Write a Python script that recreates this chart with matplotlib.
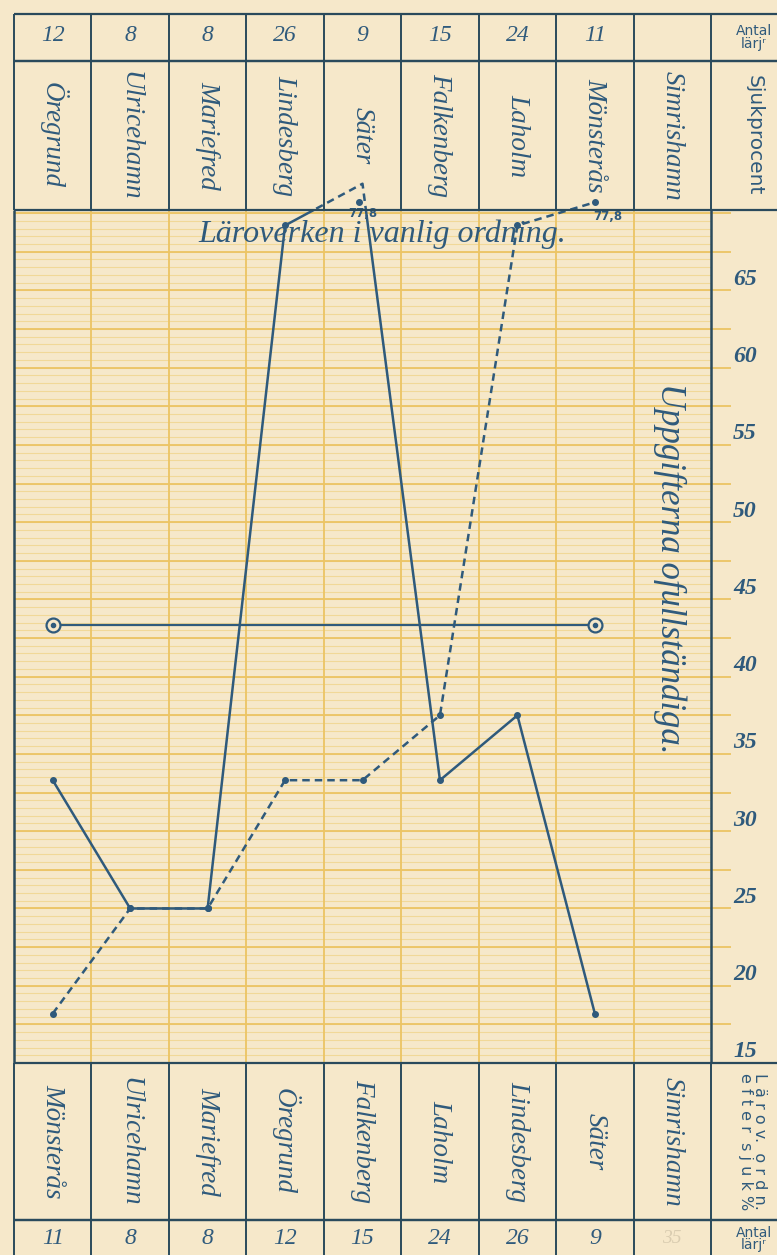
import numpy as np
import matplotlib.pyplot as plt
from matplotlib.patches import Rectangle

# schools in ordinary order (top of sheet)
schools = ["Öregrund", "Ulricehamn", "Mariefred", "Lindesberg", "Säter",
           "Falkenberg", "Laholm", "Mönsterås", "Simrishamn"]
pupils = [12, 8, 8, 26, 9, 15, 24, 11, None]
sick_pct = [33.3, 25.0, 25.0, 69.2, 77.8, 33.3, 37.5, 18.2, None]

# schools ordered by sick percentage (bottom of sheet)
schools_sorted = ["Mönsterås", "Ulricehamn", "Mariefred", "Öregrund", "Falkenberg",
                  "Laholm", "Lindesberg", "Säter", "Simrishamn"]

y_ticks = [15, 20, 25, 30, 35, 40, 45, 50, 55, 60, 65]

# off-scale value (Säter 77,8) is drawn as a broken peak just above the frame
PEAK_Y = 71.9
DOT_Y = 70.7
Y_MIN, Y_MAX = 15, 70.2

paper = "#f6e8ca"
ink = "#2f5a7c"
frame = "#2a4a5c"
grid_thin = "#f1d898"
grid_thick = "#ecc464"

W, H = 777, 1255
L, R = 14, 711
col_w = (R - L) / 9.0

serif = dict(family="Liberation Serif", style="italic", color=ink)
sans = dict(family="DejaVu Sans", color=ink)

fig = plt.figure(figsize=(W / 100, H / 100), dpi=100, facecolor=paper)


def box(top, bottom):
    return [L / W, 1 - bottom / H, (R - L) / W, (bottom - top) / H]


def table_row(top, bottom):
    a = fig.add_axes(box(top, bottom))
    a.set_xlim(0, 9)
    a.set_ylim(0, 1)
    a.axis("off")
    a.vlines(range(10), 0, 1, color=frame, lw=1.4, clip_on=False)
    a.hlines([0, 1], 0, 9 + (W - R) / col_w + 0.2, color=frame, lw=1.6, clip_on=False)
    return a


# ---- main plot area ----
ax = fig.add_axes(box(210, 1063))
ax.set_xlim(0, 9)
ax.set_ylim(Y_MIN, Y_MAX)
ax.set_facecolor(paper)
ax.set_xticks([])
ax.set_yticks([])
for s in ax.spines.values():
    s.set_visible(False)

thin = np.arange(15, 70.01, 0.5)
thick = np.arange(15, 70.01, 2.5)
ax.hlines(thin, 0, 9, color=grid_thin, lw=0.8, zorder=0)
ax.hlines(thick, 0, 9, color=grid_thick, lw=1.3, zorder=0)
ax.hlines(thick[1:], 9, 9 + 20 / col_w, color=grid_thick, lw=1.3, clip_on=False, zorder=0)
ax.vlines(range(1, 9), Y_MIN, Y_MAX, color=grid_thick, lw=1.3, zorder=0)

# frame lines of plot area
ax.vlines([0, 9], Y_MIN, Y_MAX, color=frame, lw=1.8, clip_on=False)

for v in y_ticks:
    ax.text(9 + 34 / col_w, v + 0.72, str(v), ha="center", va="center",
            fontsize=17, fontweight="bold", clip_on=False, **serif)

# ordinary order: solid line
n = 8
x = np.arange(n) + 0.5
vals = np.array(sick_pct[:n], dtype=float)
draw_vals = np.where(vals > Y_MAX, PEAK_Y, vals)
ax.plot(x, draw_vals, "-", color=ink, lw=1.8, zorder=3)
broken, = ax.plot(x, draw_vals, color=ink, lw=1.8, ls=(0, (3, 2)), zorder=3)
broken.set_clip_path(Rectangle((0, 1), 1, 0.2, transform=ax.transAxes))
on_scale = vals <= Y_MAX
ax.plot(x[on_scale], vals[on_scale], "o", color=ink, ms=4, zorder=4)
ax.plot(x[~on_scale] - 0.05, [DOT_Y] * (~on_scale).sum(), "o", color=ink, ms=4,
        clip_on=False, zorder=4)
for xi, v in zip(x[~on_scale], vals[~on_scale]):
    ax.text(xi, Y_MAX - 0.25, f"{v:.1f}".replace(".", ","), ha="center", va="center",
            fontsize=8.5, fontweight="bold", clip_on=False, **sans)

# ordered by sick percentage: dashed line
lookup = dict(zip(schools, sick_pct))
svals = np.array([lookup[s] for s in schools_sorted[:n]], dtype=float)
sdraw = np.where(svals > Y_MAX, DOT_Y, svals)
ax.plot(x, sdraw, color=ink, lw=1.8, ls=(0, (3, 2)), clip_on=False, zorder=3)
ax.plot(x, sdraw, "o", color=ink, ms=4, clip_on=False, zorder=4)
for xi, v in zip(x[svals > Y_MAX], svals[svals > Y_MAX]):
    ax.text(xi + 0.17, Y_MAX - 0.45, f"{v:.1f}".replace(".", ","), ha="center",
            va="center", fontsize=8.5, fontweight="bold", clip_on=False, **sans)

# weighted mean line
w = np.array(pupils[:n], dtype=float)
mean = np.average(vals, weights=w)
ax.plot([x[0], x[-1]], [mean, mean], "-", color=ink, lw=1.6, zorder=3)
ax.plot([x[0], x[-1]], [mean, mean], "o", ms=10, mfc=paper, mec=ink, mew=1.6, zorder=4)
ax.plot([x[0], x[-1]], [mean, mean], "o", ms=3, color=ink, zorder=5)

ax.text(4.75, 68.6, "Läroverken i vanlig ordning.", ha="center", va="center",
        fontsize=23, zorder=6, **serif)
ax.text(8.47, 47.0, "Uppgifterna ofullständiga.", ha="center", va="center",
        rotation=-90, fontsize=25, **serif)

# ---- header rows ----
top_num = table_row(14, 61)
top_name = table_row(61, 210)
bot_name = table_row(1063, 1220)
bot_num = table_row(1220, 1262)

lab_x = 9 + 43 / col_w
pupils_by_name = dict(zip(schools, pupils))

for i, s in enumerate(schools):
    if pupils[i] is not None:
        top_num.text(i + 0.5, 0.55, str(pupils[i]), ha="center", va="center",
                     fontsize=17, **serif)
    top_name.text(i + 0.5, 0.5, s, ha="center", va="center", rotation=-90,
                  fontsize=19.5, **serif)

for i, s in enumerate(schools_sorted):
    p = pupils_by_name[s]
    if p is not None:
        bot_num.text(i + 0.5, 0.55, str(p), ha="center", va="center",
                     fontsize=17, **serif)
    bot_name.text(i + 0.5, 0.5, s, ha="center", va="center", rotation=-90,
                  fontsize=19.5, **serif)
bot_num.text(8.5, 0.55, "35", ha="center", va="center", fontsize=14,
             family="Liberation Serif", style="italic", color="#d9ccb0")

top_num.text(lab_x, 0.5, "Antal\nlärjʳ", ha="center", va="center", fontsize=10,
             linespacing=0.85, clip_on=False, **sans)
top_name.text(lab_x, 0.5, "Sjukprocent", ha="center", va="center",
              rotation=-90, fontsize=14.5, clip_on=False, **sans)
bot_name.text(lab_x - 0.02, 0.5, "L ä r o v.  o r d n.\ne f t e r  s j u k %",
              ha="center", va="center", rotation=-90, fontsize=11.5,
              linespacing=0.85, clip_on=False, **sans)
bot_num.text(lab_x, 0.55, "Antal\nlärjʳ", ha="center", va="center", fontsize=10,
             linespacing=0.85, clip_on=False, **sans)

fig.savefig("out.png", dpi=100, facecolor=paper)
